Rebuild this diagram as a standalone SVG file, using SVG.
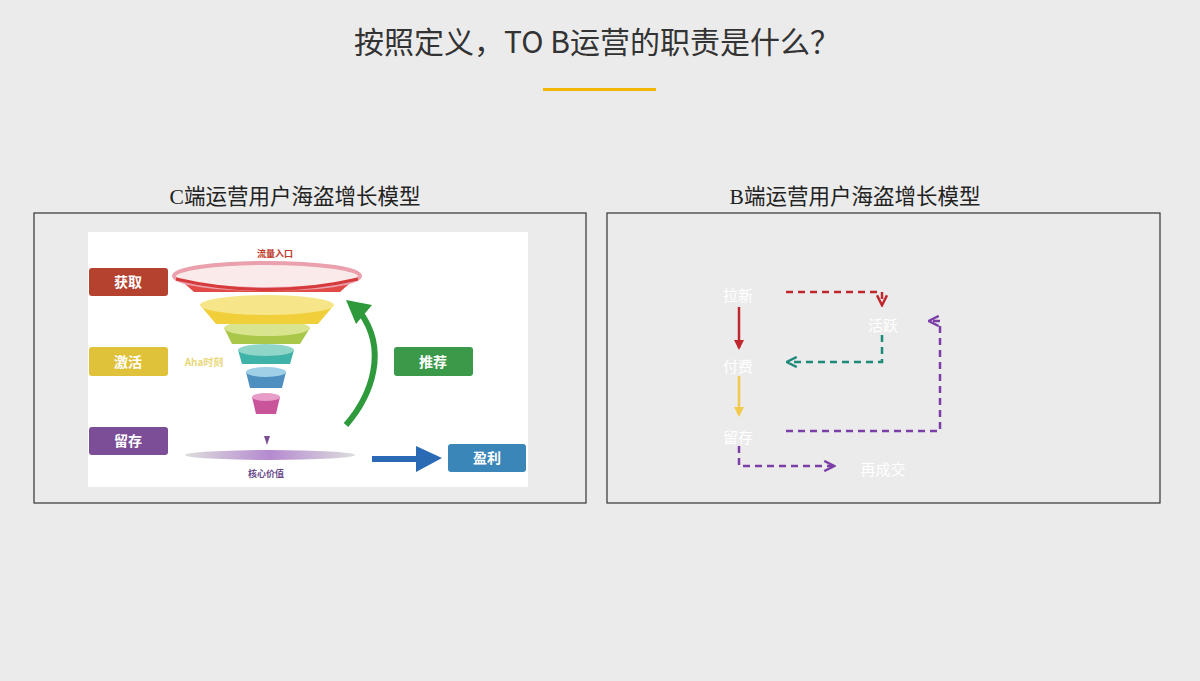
<svg xmlns="http://www.w3.org/2000/svg" width="1200" height="681" viewBox="0 0 1200 681">
<defs>
<style>
.t{font-family:"Noto Sans CJK SC","Liberation Sans",sans-serif}
.s{font-family:"Liberation Serif","Noto Sans CJK SC",serif}
.lb{font-family:"Noto Sans CJK SC",sans-serif;font-size:14px;fill:#fff;font-weight:bold;text-anchor:middle}
.w{font-family:"Noto Sans CJK SC",serif;font-size:15px;fill:#fff;text-anchor:middle}
.d{fill:none;stroke-width:2.5;stroke-dasharray:7,5}
</style>
<marker id="ar" viewBox="0 0 10 10" refX="8" refY="5" markerWidth="5" markerHeight="5" orient="auto"><path d="M1,1 L9,5 L1,9" fill="none" stroke="context-stroke" stroke-width="2"/></marker>
<marker id="af" viewBox="0 0 10 10" refX="8" refY="5" markerWidth="4" markerHeight="4" orient="auto"><path d="M0,0 L10,5 L0,10 Z" fill="context-stroke"/></marker>
<linearGradient id="sh" x1="0" x2="1"><stop offset="0" stop-color="#ddd"/><stop offset="0.5" stop-color="#b58ad0"/><stop offset="1" stop-color="#ddd"/></linearGradient>
</defs>
<rect width="1200" height="681" fill="#ebebeb"/>
<text x="597" y="53" text-anchor="middle" font-size="30" fill="#333" class="t">按照定义，TO B运营的职责是什么？</text>
<rect x="543" y="88" width="113" height="3" fill="#f2b705"/>
<text x="295" y="204" text-anchor="middle" font-size="21.5" fill="#222" class="s">C端运营用户海盗增长模型</text>
<text x="855" y="204" text-anchor="middle" font-size="21.5" fill="#222" class="s">B端运营用户海盗增长模型</text>
<rect x="34" y="213" width="552" height="290" fill="none" stroke="#333" stroke-width="1.2"/>
<rect x="607" y="213" width="553" height="290" fill="none" stroke="#333" stroke-width="1.2"/>
<g id="cpic">
<rect x="88" y="232" width="440" height="255" fill="#fff"/>
<ellipse cx="270" cy="455" rx="85" ry="5" fill="url(#sh)"/>
<path d="M264,436 L270,436 L267,445 Z" fill="#7b4e97"/>
<path d="M252,397 L280,397 L276,414 L256,414 Z" fill="#c9549a"/>
<ellipse cx="266" cy="397" rx="14" ry="4" fill="#e89cc8"/>
<path d="M246,372 L286,372 L282,388 L250,388 Z" fill="#4d8fbf"/>
<ellipse cx="266" cy="372" rx="20" ry="5" fill="#9fd0e8"/>
<path d="M238,350 L294,350 L290,364 L242,364 Z" fill="#3fb3a8"/>
<ellipse cx="266" cy="350" rx="28" ry="6" fill="#8fd6c8"/>
<path d="M224,328 L310,328 L300,344 L232,344 Z" fill="#a9c84a"/>
<ellipse cx="267" cy="328" rx="43" ry="8" fill="#d9e48e"/>
<path d="M200,305 L334,305 L318,324 L216,324 Z" fill="#f0cf3a"/>
<ellipse cx="267" cy="305" rx="67" ry="10" fill="#f7e58a"/>
<path d="M176,276 L358,276 L340,292 L194,292 Z" fill="#e14a45"/>
<ellipse cx="267" cy="276" rx="93" ry="13" fill="#fbeaea" stroke="#eaa0ad" stroke-width="4"/>
<path d="M176,279 Q267,300 358,279" fill="none" stroke="#d63a3a" stroke-width="3"/>
<text x="275" y="257" text-anchor="middle" font-size="9" font-weight="bold" fill="#c0392b" class="t">流量入口</text>
<text x="204" y="366" text-anchor="middle" font-size="10" font-weight="bold" fill="#e8d87a" class="t">Aha时刻</text>
<text x="266" y="477" text-anchor="middle" font-size="9" font-weight="bold" fill="#6a4a8a" class="t">核心价值</text>
<path d="M346,425 C372,395 388,350 360,312" fill="none" stroke="#2f9a3c" stroke-width="6"/>
<path d="M346,300 L372,305 L356,324 Z" fill="#2f9a3c"/>
<path d="M372,459 L418,459" stroke="#2a6ab5" stroke-width="6"/>
<path d="M416,446 L442,458 L416,472 Z" fill="#2a6ab5"/>
</g>
<g id="n-huoqu"><rect x="89" y="268" width="79" height="28" rx="3" fill="#b5412f"/><text x="128" y="287" class="lb">获取</text></g>
<g id="n-jihuo"><rect x="89" y="347" width="79" height="29" rx="3" fill="#e0c23a"/><text x="128" y="367" class="lb">激活</text></g>
<g id="n-liucun"><rect x="89" y="427" width="79" height="28" rx="3" fill="#7b4e97"/><text x="128" y="446" class="lb">留存</text></g>
<g id="n-tuijian"><rect x="394" y="347" width="79" height="29" rx="3" fill="#3a9a4a"/><text x="433" y="367" class="lb">推荐</text></g>
<g id="n-yingli"><rect x="448" y="444" width="78" height="28" rx="3" fill="#3b86b8"/><text x="487" y="463" class="lb">盈利</text></g>
<g id="b-laxin"><text x="738" y="301" class="w">拉新</text></g>
<g id="b-huoyue"><text x="883" y="331" class="w">活跃</text></g>
<g id="b-fufei"><text x="738" y="372" class="w">付费</text></g>
<g id="b-liucun"><text x="738" y="443" class="w">留存</text></g>
<g id="b-zaichengjiao"><text x="883" y="475" class="w">再成交</text></g>
<g id="connectors">
<path d="M739,307 L739,348" stroke="#c0272d" stroke-width="2.5" fill="none" marker-end="url(#af)"/>
<path d="M739,376 L739,415" stroke="#f2c94c" stroke-width="2.5" fill="none" marker-end="url(#af)"/>
<path d="M786,292 L882,292 L882,304" class="d" stroke="#c0272d" marker-end="url(#ar)"/>
<path d="M882,335 L882,362 L788,362" class="d" stroke="#1e8a7a" marker-end="url(#ar)"/>
<path d="M786,431 L940,431 L940,321 L930,321" class="d" stroke="#7b3fa8" marker-end="url(#ar)"/>
<path d="M739,446 L739,466 L833,466" class="d" stroke="#7b3fa8" marker-end="url(#ar)"/>
</g>
</svg>
